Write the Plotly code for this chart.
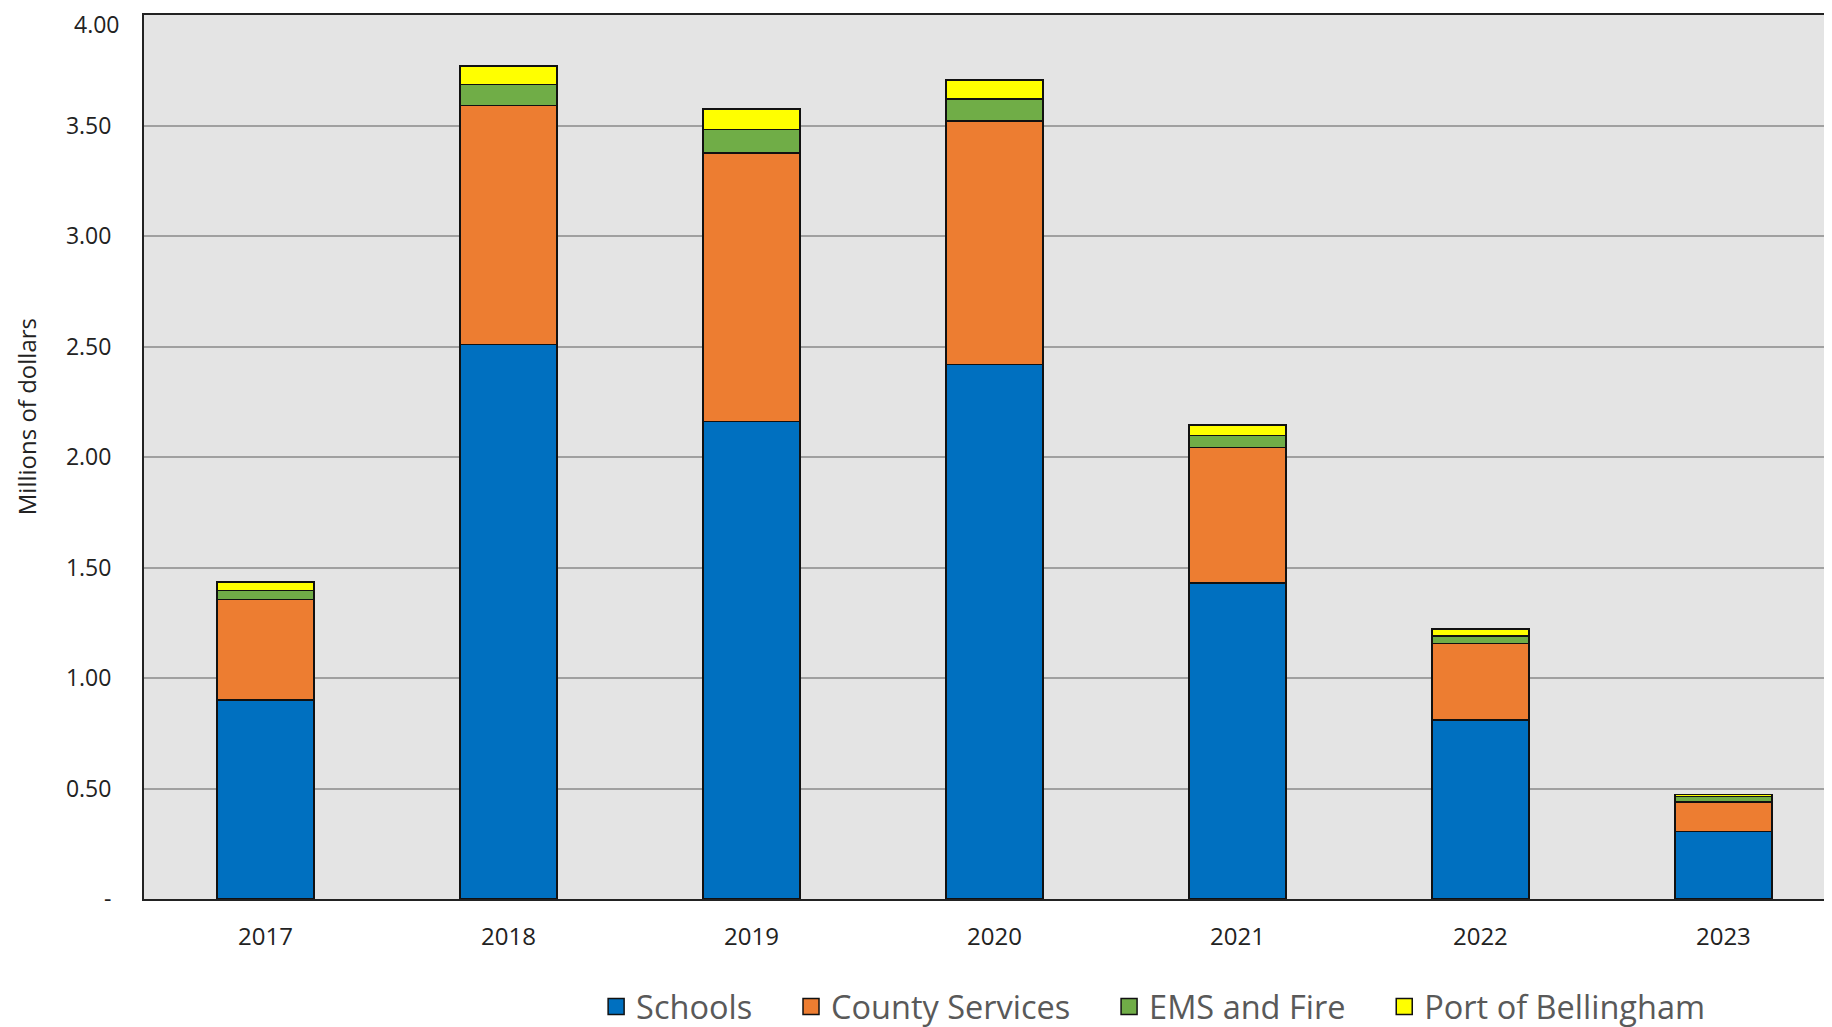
import plotly.graph_objects as go

years = ["2017", "2018", "2019", "2020", "2021", "2022", "2023"]
schools = [0.90, 2.51, 2.16, 2.42, 1.43, 0.81, 0.305]
county = [0.455, 1.08, 1.217, 1.10, 0.613, 0.346, 0.135]
ems = [0.042, 0.095, 0.106, 0.10, 0.054, 0.035, 0.025]
port = [0.037, 0.085, 0.093, 0.087, 0.048, 0.030, 0.007]

NB = "\u00a0" * 4
series = [
    ("Schools" + NB, schools, "#0070C0"),
    ("County Services" + NB, county, "#ED7D31"),
    ("EMS and Fire" + NB, ems, "#70AD47"),
    ("Port of Bellingham", port, "#FFFF00"),
]

tick_vals = [0, 0.5, 1.0, 1.5, 2.0, 2.5, 3.0, 3.5, 4.0]
tick_text = ["-", "0.50", "1.00", "1.50", "2.00", "2.50", "3.00", "3.50", "4.00"]

fig = go.Figure()
for name, vals, color in series:
    fig.add_trace(go.Bar(
        x=years, y=vals, name=name, width=0.4, showlegend=False,
        marker=dict(color=color, line=dict(color="#111111", width=1.5)),
    ))
# legend entries with larger square keys
for name, vals, color in series:
    fig.add_trace(go.Scatter(
        x=[years[0]], y=[None], name=name, mode="markers",
        marker=dict(symbol="square", size=20, color=color,
                    line=dict(color="#111111", width=1.5)),
        hoverinfo="skip",
    ))

fig.update_layout(
    barmode="stack",
    width=1832, height=1027,
    margin=dict(l=136, r=0, t=7, b=136),
    paper_bgcolor="white",
    plot_bgcolor="#E4E4E4",
    font=dict(family="Open Sans", size=23, color="#222222"),
    showlegend=True,
    legend=dict(
        orientation="h", x=0.595, xanchor="center", y=-0.122, yanchor="middle",
        font=dict(size=32.5, color="#595959"), traceorder="normal",
        itemwidth=30,
    ),
)
fig.update_xaxes(
    type="category", range=[-0.5, 6.48], automargin=False,
    showline=True, linecolor="#222222", linewidth=2, mirror=True,
    showgrid=False, ticks="", tickfont=dict(size=24, color="#222222"),
    ticklabelstandoff=15,
)
# top label drawn separately so it stays inside the page
shown_text = tick_text[:-1] + [""]
fig.update_yaxes(
    range=[0, 4.0005], tickvals=tick_vals, ticktext=shown_text, automargin=False,
    showline=True, linecolor="#222222", linewidth=2,
    showgrid=True, gridcolor="#A0A0A0", gridwidth=2,
    zeroline=False, ticks="", tickfont=dict(size=23, color="#222222"),
    ticklabelstandoff=26,
)
fig.add_annotation(
    text=tick_text[-1], xref="paper", yref="y", x=0, y=tick_vals[-1],
    xanchor="right", yanchor="middle", xshift=-23, yshift=-9, borderpad=0,
    showarrow=False, font=dict(size=23, color="#222222"),
)
fig.add_annotation(
    text="Millions of dollars", textangle=-90,
    xref="paper", yref="paper", x=-118 / 1696, y=0.545,
    xanchor="center", yanchor="middle", showarrow=False, borderpad=0,
    font=dict(size=24, color="#222222"),
)
fig.write_html("out.html")
